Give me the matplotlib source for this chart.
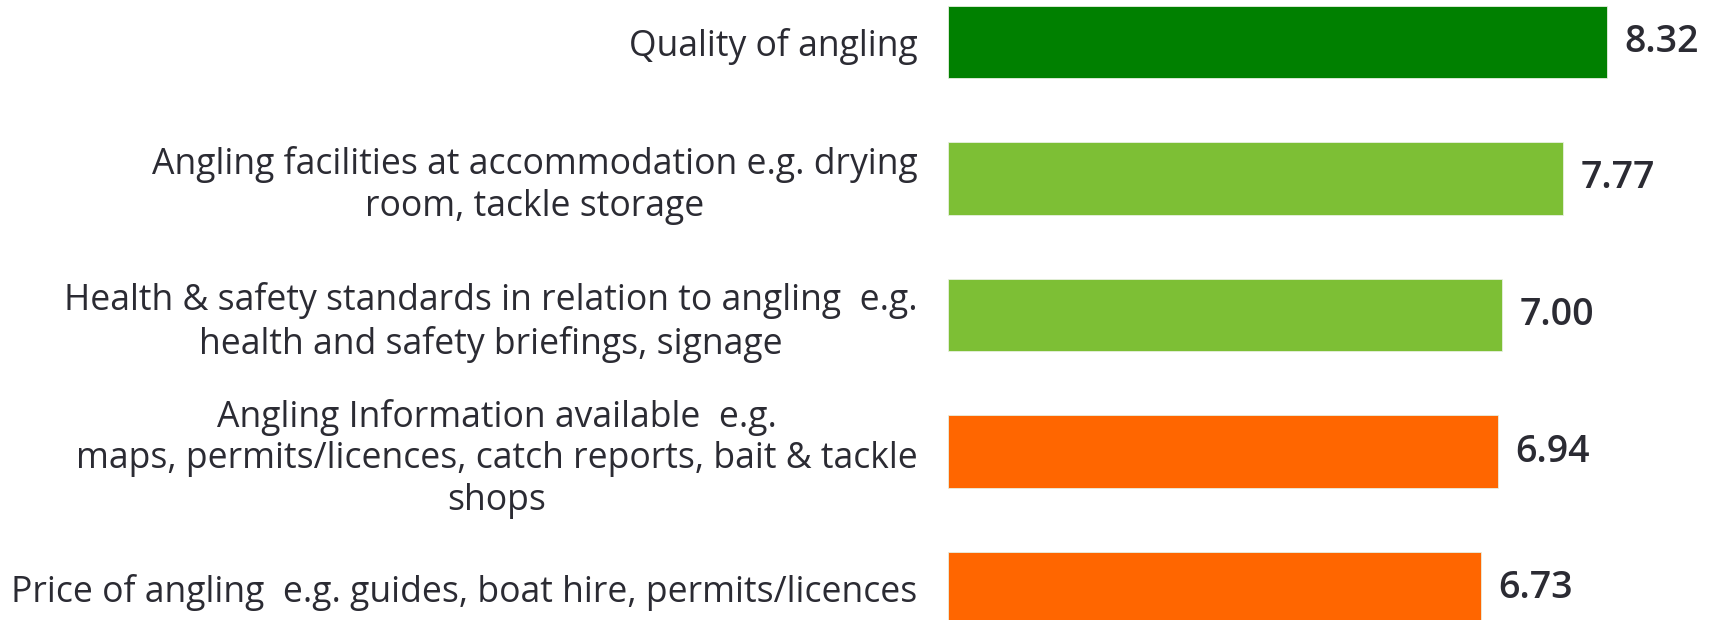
"""
Angling satisfaction scores, horizontal bar chart.
"""

import matplotlib
matplotlib.use("Agg")
import matplotlib.pyplot as plt

plt.rcParams['font.family'] = ['Open Sans', 'DejaVu Sans']

categories = [
    "Quality of angling",
    "Angling facilities at accommodation e.g. drying\nroom, tackle storage",
    "Health & safety standards in relation to angling  e.g.\nhealth and safety briefings, signage",
    "Angling Information available  e.g.\nmaps, permits/licences, catch reports, bait & tackle\nshops",
    "Price of angling  e.g. guides, boat hire, permits/licences",
]
scores = [8.32, 7.77, 7.00, 6.94, 6.73]
bar_colors = ["#008000", "#7dbf35", "#7dbf35", "#ff6600", "#ff6600"]

fig = plt.figure(figsize=(17.23, 6.2), dpi=100)
ax = fig.add_axes([0.5502, 0.0, 0.4498, 1.0])

pos = list(range(len(categories)))
ax.barh(pos, scores, height=0.53, color=bar_colors, edgecolor="#e8f0e0", linewidth=0.6)

for p, s in zip(pos, scores):
    ax.text(s + 0.22, p, f"{s:.2f}", va="center", ha="left",
            fontsize=27, fontweight="semibold", color="#2b2b33")

ax.set_xlim(0, 9.785)
ax.set_ylim(4.234, -0.307)
ax.set_yticks(pos)
ax.set_yticklabels(categories, fontsize=25.6, color="#2b2b33")
for t in ax.get_yticklabels():
    t.set_multialignment("center")
    t.set_linespacing(1.22)
ax.tick_params(axis="y", length=0, pad=22)
ax.set_xticks([])
for sp in ax.spines.values():
    sp.set_visible(False)

fig.savefig("out.png", dpi=100)
